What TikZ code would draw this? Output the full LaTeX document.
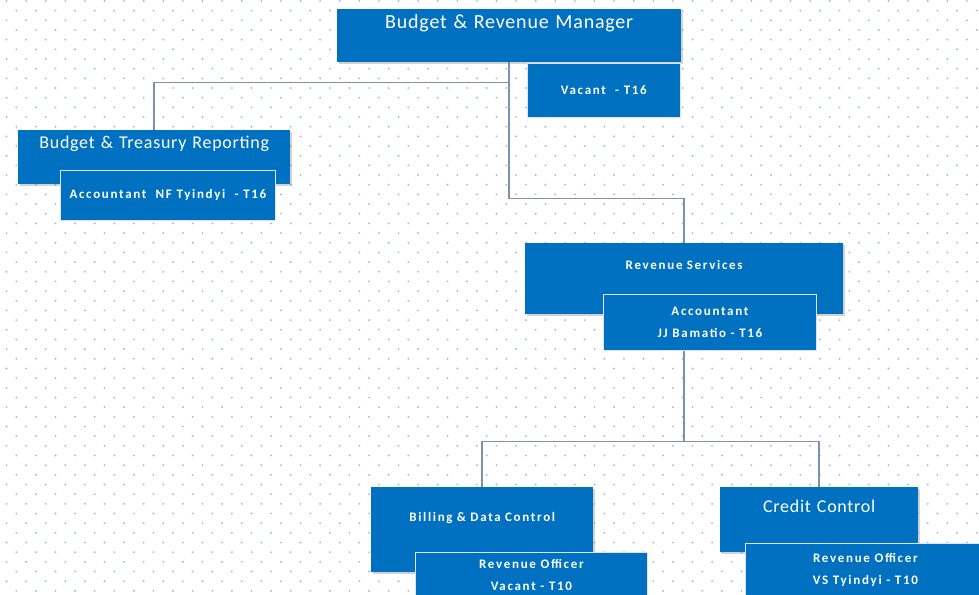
\documentclass[tikz,border=0pt]{standalone}
\usepackage{fontspec}
\setmainfont{Carlito}
\newfontfamily\titlefont[LetterSpace=4]{Carlito}
\newfontfamily\postfont[LetterSpace=13]{Carlito}
\usetikzlibrary{shadows,backgrounds}
\definecolor{orgblue}{RGB}{0,112,192}
\definecolor{linkgray}{RGB}{125,145,170}
\definecolor{dotblue}{RGB}{160,188,222}
\tikzset{
	unitbox/.style={fill=orgblue, text=white, anchor=north west, inner sep=0pt, align=center,
		drop shadow={shadow xshift=1.5pt, shadow yshift=-1.5pt, opacity=0.35}},
	postbox/.style={fill=orgblue, draw=blue!12!white, line width=0.8pt, text=white, anchor=north west,
		inner sep=0pt, align=center, font=\postfont\bfseries\fontsize{13}{22}\selectfont},
	link/.style={draw=linkgray, line width=1.6pt}
}
\begin{document}
\begin{tikzpicture}[x=1pt,y=-1pt]
		\useasboundingbox (0,0) rectangle (979,594);
		\clip (0,0) rectangle (979,594);
		
		\node[unitbox, text width=344pt, text height=19pt, text depth=34pt, font=\titlefont\fontsize{20}{22}\selectfont] (mgr) at (337,9) {Budget \& Revenue Manager};
		\node[postbox, minimum width=153pt, minimum height=54pt] (vacant) at (527,63) {Vacant\ \ - T16};
		
		\node[unitbox, text width=272pt, text height=18pt, text depth=36pt, font=\titlefont\fontsize{18}{20}\selectfont] (treasury) at (18,130) {Budget \& Treasury Reporting};
		\node[postbox, minimum width=215pt, minimum height=50pt] (accnf) at (60,170) {Accountant\ \ NF Tyindyi\ \ - T16};
		
		\node[unitbox, text width=318pt, text height=26pt, text depth=45pt, font=\postfont\bfseries\fontsize{13}{15}\selectfont] (revenue) at (525,243) {Revenue Services};
		\node[postbox, minimum width=213pt, minimum height=56pt] (accjj) at (603,294) {Accountant\\JJ Bamatio - T16};
		
		\node[unitbox, text width=222pt, text height=34pt, text depth=51pt, font=\postfont\bfseries\fontsize{13}{15}\selectfont] (billing) at (371,487) {Billing \& Data Control};
		\node[postbox, minimum width=232pt, minimum height=45pt] (offvacant) at (415,552) {Revenue Officer\\Vacant - T10};
		
		\node[unitbox, text width=198pt, text height=25pt, text depth=40pt, font=\titlefont\fontsize{18}{20}\selectfont] (credit) at (720,487) {Credit Control};
		\node[postbox, minimum width=240pt, minimum height=53pt] (offvs) at (745,543) {Revenue Officer\\VS Tyindyi - T10};
		
		\begin{pgfonlayer}{background}
			\fill[white] (0,0) rectangle (979,594);
			\foreach \r in {0,...,61}
				\foreach \c in {0,...,50}
					\fill[dotblue] ({6.5+9.8*mod(\r,2)+19.6*\c},{1+9.67*\r}) circle (1.05pt);
			
			\draw[link] (mgr.south) -- ++(0,20) -| (treasury.north);
			\draw[link] (mgr.south) -- ++(0,136) -| (revenue.north);
			\draw[link] (revenue.south) -- ++(0,127) -| (billing.north);
			\draw[link] (revenue.south) -- ++(0,127) -| (credit.north);
		\end{pgfonlayer}
\end{tikzpicture}
\end{document}
